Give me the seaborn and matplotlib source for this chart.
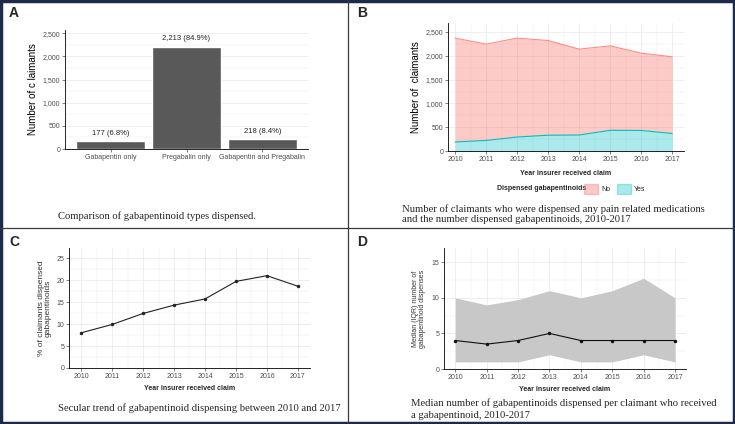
import numpy as np
import matplotlib
matplotlib.use("Agg")
import matplotlib.pyplot as plt
import seaborn as sns
from matplotlib.patches import Patch, Rectangle
from matplotlib.lines import Line2D
from matplotlib.ticker import MultipleLocator

# ---- data ----
drug_groups = ["Gabapentin only", "Pregabalin only", "Gabapentin and Pregabalin"]
drug_counts = [177, 2213, 218]
drug_pcts = [6.8, 84.9, 8.4]

years = [2010, 2011, 2012, 2013, 2014, 2015, 2016, 2017]
total_claimants = [2373, 2246, 2373, 2322, 2141, 2210, 2057, 1979]
gaba_yes = [190, 222, 294, 332, 336, 435, 432, 368]

pct_dispensed = [8.0, 9.9, 12.4, 14.3, 15.7, 19.7, 21.0, 18.6]

median_disp = [4, 3.5, 4, 5, 4, 4, 4, 4]
iqr_low = [1, 1, 1, 2, 1, 1, 2, 1]
iqr_high = [10, 9, 9.75, 11, 10, 11, 12.75, 10]

captions = [
    "Comparison of gabapentinoid types dispensed.",
    "Number of claimants who were dispensed any pain related medications\nand the number dispensed gabapentinoids, 2010-2017",
    "Secular trend of gabapentinoid dispensing between 2010 and 2017",
    "Median number of gabapentinoids dispensed per claimant who received\na gabapentinoid, 2010-2017",
]

sns.set_theme(style="white")
plt.rcParams["font.family"] = ["Liberation Sans", "DejaVu Sans"]

W, H = 735, 424
fig = plt.figure(figsize=(W / 100, H / 100), dpi=100)
fig.patch.set_facecolor("white")


def px_axes(l, t, r, b):
    return fig.add_axes([l / W, 1 - b / H, (r - l) / W, (b - t) / H])


GRID = "#EBEBEB"
TICKC = "#4D4D4D"


def style_axes(ax, xgrid=True):
    ax.set_facecolor("white")
    for s in ["top", "right"]:
        ax.spines[s].set_visible(False)
    for s in ["left", "bottom"]:
        ax.spines[s].set_color("black")
        ax.spines[s].set_linewidth(0.6)
    ax.tick_params(axis="both", which="major", labelsize=5, colors=TICKC,
                   length=2, width=0.5, pad=1.5, left=True, bottom=True)
    ax.tick_params(axis="both", which="minor", length=0)
    ax.grid(True, which="major", axis="y", color=GRID, lw=0.6)
    ax.grid(True, which="minor", axis="y", color=GRID, lw=0.35)
    if xgrid:
        ax.grid(True, which="major", axis="x", color=GRID, lw=0.6)
        ax.grid(True, which="minor", axis="x", color=GRID, lw=0.35)
    ax.set_axisbelow(True)


# ---- Panel A ----
axA = px_axes(65, 30, 308, 149)
sns.barplot(x=drug_groups, y=drug_counts, color="#595959", width=0.9,
            saturation=1, ax=axA)
for i, (c, p) in enumerate(zip(drug_counts, drug_pcts)):
    axA.annotate(f"{c:,} ({p}%)", (i, c), xytext=(0, 3), textcoords="offset points",
                 ha="center", va="bottom", fontsize=5.5, color="#222222")
axA.set_xlim(-0.6, 2.6)
axA.set_ylim(0, 2571)
axA.yaxis.set_major_locator(MultipleLocator(500))
axA.yaxis.set_minor_locator(MultipleLocator(250))
axA.yaxis.set_major_formatter(matplotlib.ticker.FuncFormatter(lambda v, _: f"{int(v):,}"))
style_axes(axA, xgrid=False)
axA.set_ylabel("Number of c laimants", fontsize=7, color="black", labelpad=3)
axA.set_xlabel("")

# ---- Panel B ----
axB = px_axes(448, 23, 684, 151)
yes = np.array(gaba_yes)
tot = np.array(total_claimants)
red, cyan = "#F8766D", "#00BFC4"
axB.fill_between(years, yes, tot, color=red, alpha=0.38, lw=0)
axB.fill_between(years, 0, yes, color=cyan, alpha=0.33, lw=0)
sns.lineplot(x=years, y=tot, color=red, lw=0.8, alpha=0.8, ax=axB)
sns.lineplot(x=years, y=yes, color=cyan, lw=0.8, ax=axB)
axB.set_xlim(2009.77, 2017.38)
axB.set_ylim(0, 2690)
axB.set_xticks(years)
axB.xaxis.set_minor_locator(MultipleLocator(0.5))
axB.yaxis.set_major_locator(MultipleLocator(500))
axB.yaxis.set_minor_locator(MultipleLocator(250))
axB.yaxis.set_major_formatter(matplotlib.ticker.FuncFormatter(lambda v, _: f"{int(v):,}"))
style_axes(axB)
axB.set_ylabel("Number of  claimants", fontsize=7, color="black", labelpad=3)
axB.set_xlabel("Year insurer received claim", fontsize=5, fontweight="bold", labelpad=5)

fig.text(497 / W, 1 - 189 / H, "Dispensed gabapentinoids", fontsize=5,
         fontweight="bold", va="center", ha="left")
handles = [Patch(facecolor=red, alpha=0.38, edgecolor=red),
           Patch(facecolor=cyan, alpha=0.33, edgecolor=cyan)]
fig.legend(handles, ["No", "Yes"], ncol=2, frameon=False, fontsize=5,
           loc="center left", bbox_to_anchor=(584 / W, 1 - 189 / H),
           handlelength=2.0, handleheight=2.0, handletextpad=0.5,
           columnspacing=0.9, borderpad=0, borderaxespad=0)

# ---- Panel C ----
axC = px_axes(69, 248, 310, 368)
sns.lineplot(x=years, y=pct_dispensed, color="#222222", lw=0.8, marker="o",
             markersize=2.5, markeredgewidth=0, ax=axC)
axC.set_xlim(2009.61, 2017.39)
axC.set_ylim(0, 27.3)
axC.set_xticks(years)
axC.xaxis.set_minor_locator(MultipleLocator(0.5))
axC.yaxis.set_major_locator(MultipleLocator(5))
axC.yaxis.set_minor_locator(MultipleLocator(2.5))
style_axes(axC)
axC.set_ylabel("% of claimants dispensed\ngabapentinoids", fontsize=6,
               color="#333333", labelpad=3, linespacing=1.0)
axC.set_xlabel("Year insurer received claim", fontsize=5, fontweight="bold", labelpad=4)

# ---- Panel D ----
axD = px_axes(444, 248, 686, 369)
axD.fill_between(years, iqr_low, iqr_high, color="#C8C8C8", lw=0)
sns.lineplot(x=years, y=median_disp, color="#111111", lw=0.8, marker="o",
             markersize=2.5, markeredgewidth=0, ax=axD)
axD.set_xlim(2009.64, 2017.35)
axD.set_ylim(0, 17)
axD.set_xticks(years)
axD.xaxis.set_minor_locator(MultipleLocator(0.5))
axD.yaxis.set_major_locator(MultipleLocator(5))
axD.yaxis.set_minor_locator(MultipleLocator(2.5))
style_axes(axD)
axD.set_ylabel("Median (IQR) number of\ngabapentinoid dispenses", fontsize=5,
               color="#333333", labelpad=4, linespacing=1.0)
axD.set_xlabel("Year insurer received claim", fontsize=5, fontweight="bold", labelpad=4)

# ---- panel letters and captions ----
for letter, (x, y) in zip("ABCD", [(9, 13), (357, 13), (9, 242), (357, 242)]):
    fig.text(x / W, 1 - y / H, letter, fontsize=10, fontweight="bold",
             va="center", ha="left")

serif = ["Liberation Serif", "DejaVu Serif"]
cap_fs = 7.7
fig.text(58 / W, 1 - 216 / H, captions[0], family=serif, fontsize=cap_fs, va="center")
fig.text(402 / W, 1 - 214.5 / H, captions[1], family=serif, fontsize=cap_fs, va="center",
         linespacing=1.15)
fig.text(58 / W, 1 - 408 / H, captions[2], family=serif, fontsize=cap_fs, va="center")
fig.text(411 / W, 1 - 409 / H, captions[3], family=serif, fontsize=cap_fs, va="center",
         linespacing=1.35)

# ---- frame and dividers ----
fig.add_artist(Line2D([347.5 / W, 347.5 / W], [0, 1], color="#3A3A3A", lw=0.9))
fig.add_artist(Line2D([0, 1], [1 - 228 / H, 1 - 228 / H], color="#3A3A3A", lw=0.9))
fig.add_artist(Rectangle((0.002, 0.003), 0.996, 0.994, fill=False,
                         edgecolor="#1C2B4A", lw=2.5, transform=fig.transFigure))

fig.savefig("out.png", dpi=100)
